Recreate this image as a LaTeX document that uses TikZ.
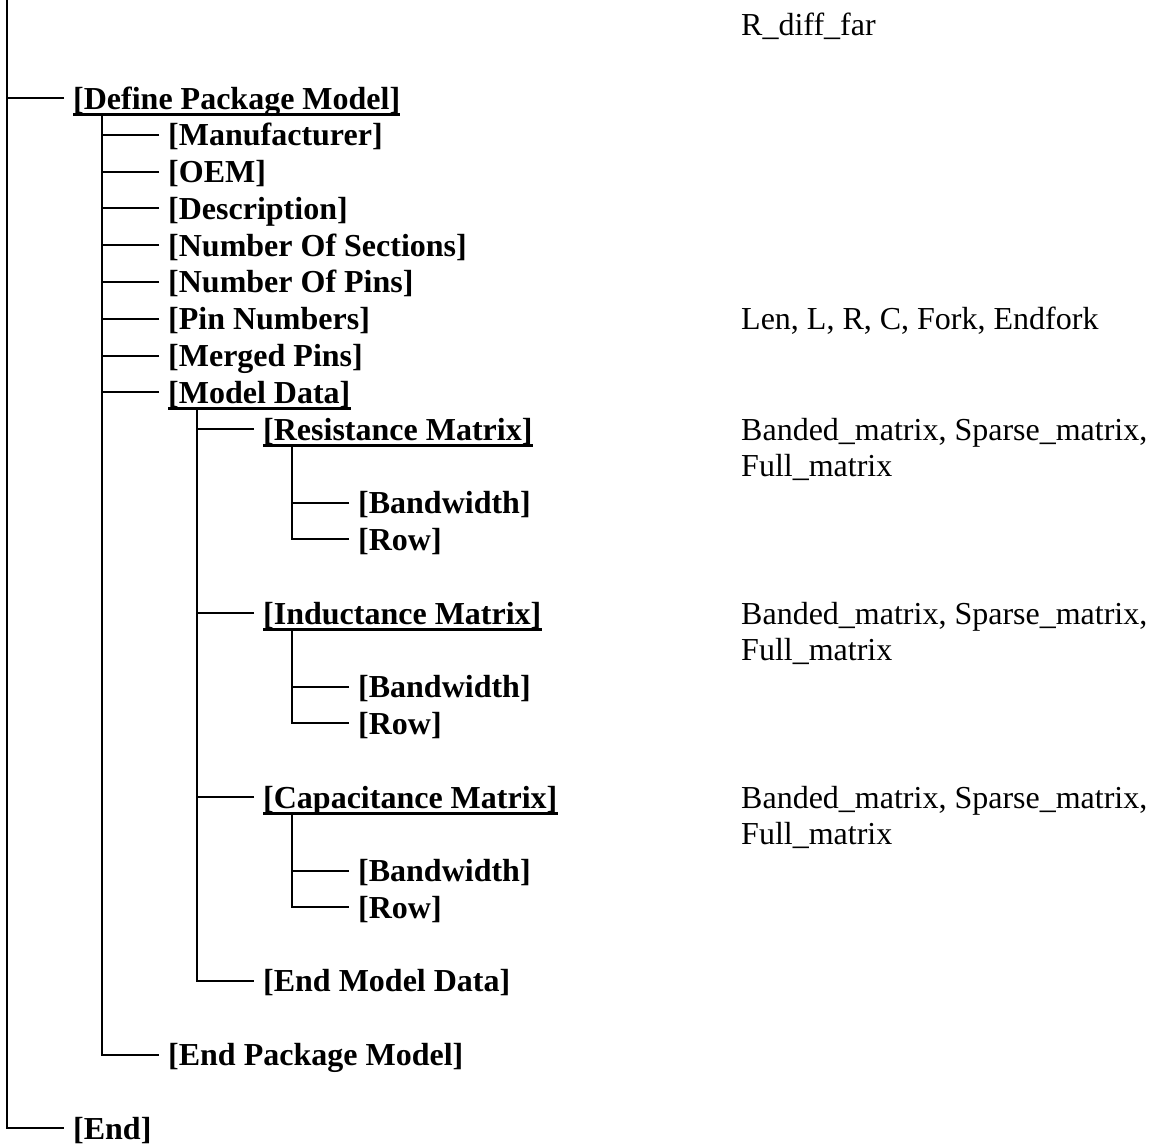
\documentclass[tikz,border=0pt]{standalone}
\usepackage{fontspec}
\setmainfont{Liberation Serif}
\usetikzlibrary{calc}
\newcommand{\rowy}[1]{98+36.79*#1}

\begin{document}
\begin{tikzpicture}[
    x=1pt, y=-1pt,
    tag/.style={anchor=west, inner xsep=9pt, inner ysep=0pt, text height=27pt, text depth=5pt,
      font=\fontsize{32}{37}\selectfont\bfseries},
    note/.style={anchor=west, inner sep=0pt, text height=27pt, text depth=5pt,
      font=\fontsize{32}{37}\selectfont},
    branch/.style={line width=2pt},
    ul/.style={line width=3pt}
  ]
  \useasboundingbox (0,0) rectangle (1154,1146);
  \coordinate (top) at (7,0);

  % tree
  \node[tag] (dpm) at (64,{\rowy{0}}) {[Define Package Model]};
  \node[tag] (manu) at (159,{\rowy{1}}) {[Manufacturer]};
  \node[tag] (oem) at (159,{\rowy{2}}) {[OEM]};
  \node[tag] (descr) at (159,{\rowy{3}}) {[Description]};
  \node[tag] (nsec) at (159,{\rowy{4}}) {[Number Of Sections]};
  \node[tag] (npins) at (159,{\rowy{5}}) {[Number Of Pins]};
  \node[tag] (pinnum) at (159,{\rowy{6}}) {[Pin Numbers]};
  \node[tag] (merged) at (159,{\rowy{7}}) {[Merged Pins]};
  \node[tag] (mdata) at (159,{\rowy{8}}) {[Model Data]};
  \node[tag] (resm) at (254,{\rowy{9}}) {[Resistance Matrix]};
  \node[tag] (rbw) at (349,{\rowy{11}}) {[Bandwidth]};
  \node[tag] (rrow) at (349,{\rowy{12}}) {[Row]};
  \node[tag] (indm) at (254,{\rowy{14}}) {[Inductance Matrix]};
  \node[tag] (ibw) at (349,{\rowy{16}}) {[Bandwidth]};
  \node[tag] (irow) at (349,{\rowy{17}}) {[Row]};
  \node[tag] (capm) at (254,{\rowy{19}}) {[Capacitance Matrix]};
  \node[tag] (cbw) at (349,{\rowy{21}}) {[Bandwidth]};
  \node[tag] (crow) at (349,{\rowy{22}}) {[Row]};
  \node[tag] (endmd) at (254,{\rowy{24}}) {[End Model Data]};
  \node[tag] (endpkg) at (159,{\rowy{26}}) {[End Package Model]};
  \node[tag] (endall) at (64,{\rowy{28}}) {[End]};

  % notes on the right
  \node[note] (rdiff) at (741,{\rowy{-2}}) {R\_diff\_far};
  \node[note] (pinnote) at (741,{\rowy{6}}) {Len, L, R, C, Fork, Endfork};
  \node[note] (rband) at (741,{\rowy{9}}) {Banded\_matrix, Sparse\_matrix,};
  \node[note] (rfull) at (741,{\rowy{10}}) {Full\_matrix};
  \node[note] (iband) at (741,{\rowy{14}}) {Banded\_matrix, Sparse\_matrix,};
  \node[note] (ifull) at (741,{\rowy{15}}) {Full\_matrix};
  \node[note] (cband) at (741,{\rowy{19}}) {Banded\_matrix, Sparse\_matrix,};
  \node[note] (cfull) at (741,{\rowy{20}}) {Full\_matrix};

  % underlines
  \foreach \n in {dpm,mdata,resm,indm,capm}
    \draw[ul] ([xshift=9pt]\n.south west) -- ([xshift=-9pt]\n.south east);

  % branches
  \coordinate (dpm-stem) at ($(dpm.south west)+(38,0)$);
  \coordinate (md-stem) at ($(mdata.south west)+(38,0)$);
  \draw[branch] (top) |- (endall.west);
  \draw[branch] (dpm.west) -- (dpm.west -| top);
  \draw[branch] (dpm-stem) |- (endpkg.west);
  \foreach \n in {manu,oem,descr,nsec,npins,pinnum,merged,mdata}
    \draw[branch] (\n.west) -- (\n.west -| dpm-stem);
  \draw[branch] (md-stem) |- (endmd.west);
  \foreach \n in {resm,indm,capm}
    \draw[branch] (\n.west) -- (\n.west -| md-stem);
  \foreach \m/\b/\r in {resm/rbw/rrow,indm/ibw/irow,capm/cbw/crow} {
    \coordinate (\m-stem) at ($(\m.south west)+(38,0)$);
    \draw[branch] (\m-stem) |- (\r.west);
    \draw[branch] (\b.west) -- (\b.west -| \m-stem);
  }
\end{tikzpicture}
\end{document}
